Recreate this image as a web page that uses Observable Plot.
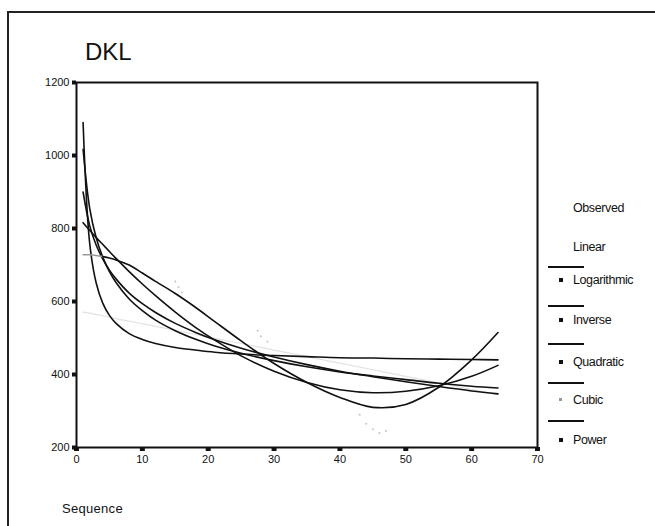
<!DOCTYPE html>
<html>
<head>
<meta charset="utf-8">
<script src="https://cdn.jsdelivr.net/npm/d3@7"></script>
<script src="https://cdn.jsdelivr.net/npm/@observablehq/plot@0.6"></script>
<style>
  html, body { margin: 0; padding: 0; background: #fff; }
  #wrap { position: relative; width: 655px; height: 526px; overflow: hidden; font-family: "Liberation Sans", Arial, sans-serif; color: #111; }
  #chart { position: absolute; left: 0; top: 0; }
  .frameL { position: absolute; left: 7px; top: 12px; width: 2px; height: 514px; background: #222; }
  .frameT { position: absolute; left: 7px; top: 11px; width: 648px; height: 2px; background: #222; }
  #title { position: absolute; left: 85px; top: 40px; font-size: 24px; line-height: 1; }
  #xlabel { position: absolute; left: 62px; top: 502px; font-size: 13px; line-height: 1; letter-spacing: 0.3px; }
  .lg { position: absolute; font-size: 12.5px; line-height: 1; letter-spacing: -0.4px; white-space: nowrap; }
  .lgline { position: absolute; height: 1.5px; background: #111; }
  .lgmark { position: absolute; width: 4px; height: 4px; background: #111; }
</style>
</head>
<body>
<div id="wrap">
  <div class="frameT"></div>
  <div class="frameL"></div>
  <div id="title">DKL</div>
  <div id="chart"></div>
  <div id="legend"></div>
  <div id="xlabel">Sequence</div>
</div>
<script>
// ---- data ----
const seqT = [1, 2, 3, 4, 5, 6, 8, 10, 12, 15, 18, 21, 25, 30, 35, 40, 45, 50, 55, 60, 64];
const linear      = [571, 568, 564, 561, 557, 553, 546, 539, 532, 521, 510, 499, 485, 467, 449, 431, 413, 395, 377, 359, 345];
const logarithmic = [900, 808, 754, 716, 686, 662, 623, 594, 570, 540, 516, 495, 472, 448, 427, 409, 394, 380, 367, 355, 347];
const inverse     = [1090, 760, 650, 595, 562, 540, 512, 496, 485, 474, 467, 461, 456, 452, 449, 446, 445, 443, 442, 441, 440];
const quadratic   = [816, 795, 775, 756, 737, 718, 682, 648, 616, 571, 530, 494, 451, 409, 378, 358, 350, 354, 369, 395, 425];
const cubic       = [728, 728, 726, 723, 719, 714, 700, 678, 655, 622, 585, 545, 492, 430, 378, 337, 310, 318, 365, 440, 515];
const power       = [1017, 856, 774, 721, 682, 652, 607, 575, 549, 520, 497, 478, 458, 438, 421, 407, 396, 386, 376, 368, 363];

const obsT = [15, 15.5, 16, 27.5, 28, 29, 43, 44, 45, 46, 47];
const obsV = [655, 640, 625, 520, 505, 490, 290, 265, 250, 240, 245];

const xTicks = [0, 10, 20, 30, 40, 50, 60, 70];
const yTicks = [200, 400, 600, 800, 1000, 1200];

const legendLabels = ["Observed", "Linear", "Logarithmic", "Inverse", "Quadratic", "Cubic", "Power"];

// ---- build tables ----
const models = [
  ["Linear", linear, "#e2e2e2", 1.2],
  ["Logarithmic", logarithmic, "#111", 1.6],
  ["Inverse", inverse, "#111", 1.6],
  ["Quadratic", quadratic, "#111", 1.6],
  ["Power", power, "#111", 1.6]
];
const observed = obsT.map((t, i) => ({t, v: obsV[i]}));

const marks = [];
for (const [name, vals, color, sw] of models) {
  const rows = seqT.map((t, i) => ({t, v: vals[i], model: name}));
  marks.push(Plot.line(rows, {x: "t", y: "v", stroke: color, strokeWidth: sw, curve: "catmull-rom"}));
}
// cubic: faint grey at its start (as in the scan), black afterwards
const cubicRows = seqT.map((t, i) => ({t, v: cubic[i], c: t < 4 ? "#9a9a9a" : "#111"}));
marks.push(Plot.line(cubicRows, {x: "t", y: "v", z: null, stroke: "c", strokeWidth: 1.6, curve: "catmull-rom"}));
marks.push(Plot.dot(observed, {x: "t", y: "v", r: 1, fill: "#c4c4c4", stroke: "none"}));
marks.push(Plot.frame({stroke: "#111", strokeWidth: 2}));
marks.push(Plot.axisY(yTicks, {tickSize: 4, strokeWidth: 4, tickPadding: 3, fontSize: 11, label: null, tickFormat: d => String(d)}));
marks.push(Plot.axisX(xTicks, {tickSize: 4, strokeWidth: 5, tickPadding: 4, fontSize: 11, label: null, tickFormat: d => String(d)}));

const chart = Plot.plot({
  width: 655,
  height: 526,
  marginLeft: 76,
  marginRight: 118,
  marginTop: 82,
  marginBottom: 79,
  style: {fontFamily: "'Liberation Sans', Arial, sans-serif", color: "#111", background: "transparent"},
  x: {domain: [0, 70]},
  y: {domain: [200, 1200]},
  color: {type: "identity"},
  marks
});
document.getElementById("chart").appendChild(chart);

// ---- legend ----
const legend = document.getElementById("legend");
const labelX = 573;
const labelY = [202, 241, 274, 314, 356, 394, 434];
const lineY = [null, null, 266, 305, 343, 382, 420];
legendLabels.forEach((lab, i) => {
  const d = document.createElement("div");
  d.className = "lg";
  d.style.left = labelX + "px";
  d.style.top = labelY[i] + "px";
  d.textContent = lab;
  legend.appendChild(d);
  if (i >= 2) {
    const m = document.createElement("div");
    m.className = "lgmark";
    m.style.left = "559px";
    m.style.top = (labelY[i] + 4) + "px";
    if (lab === "Cubic") { m.style.background = "#999"; m.style.width = "3px"; m.style.height = "3px"; }
    legend.appendChild(m);
    const l = document.createElement("div");
    l.className = "lgline";
    l.style.left = "548px";
    l.style.width = "36px";
    l.style.top = lineY[i] + "px";
    legend.appendChild(l);
  }
});
</script>
</body>
</html>
